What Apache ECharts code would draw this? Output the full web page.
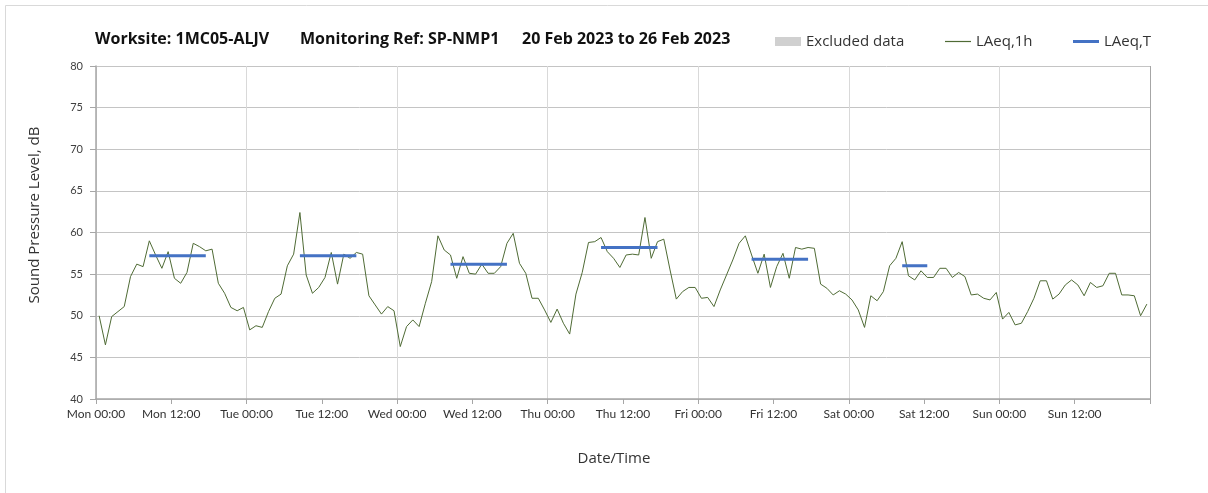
<!DOCTYPE html>
<html>
<head>
<meta charset="utf-8">
<title>LAeq monitoring SP-NMP1</title>
<script src="https://cdn.jsdelivr.net/npm/echarts@6/dist/echarts.min.js"></script>
<style>
  html, body { margin: 0; padding: 0; background: #fff; }
  #chart { width: 1208px; height: 493px; }
</style>
</head>
<body>
<div id="chart"></div>
<script>
// hourly LAeq,1h, Mon 00:00 .. Sun 23:00
const laeq1h = [
  50.0, 46.5, 49.9, 50.5, 51.1, 54.7, 56.2, 55.9, 59.0, 57.3, 55.7, 57.7,
  54.5, 53.9, 55.2, 58.7, 58.3, 57.8, 58.0, 53.9, 52.7, 51.0, 50.6, 51.0,
  48.3, 48.8, 48.6, 50.5, 52.1, 52.6, 56.0, 57.4, 62.4, 54.9, 52.7, 53.4,
  54.6, 57.6, 53.8, 57.4, 56.9, 57.6, 57.4, 52.4, 51.3, 50.2, 51.1, 50.6,
  46.3, 48.7, 49.5, 48.7, 51.5, 54.1, 59.6, 57.9, 57.3, 54.5, 57.1, 55.1,
  55.0, 56.2, 55.1, 55.1, 55.9, 58.7, 59.9, 56.3, 55.1, 52.1, 52.1, 50.7,
  49.2, 50.8, 49.1, 47.8, 52.6, 55.2, 58.8, 58.9, 59.4, 57.7, 56.9, 55.8,
  57.3, 57.4, 57.3, 61.8, 56.9, 58.9, 59.2, 55.5, 52.0, 52.9, 53.4, 53.4,
  52.1, 52.2, 51.1, 53.1, 54.9, 56.7, 58.7, 59.6, 57.3, 55.1, 57.4, 53.4,
  55.9, 57.5, 54.5, 58.2, 58.0, 58.2, 58.1, 53.8, 53.3, 52.5, 53.0, 52.6,
  51.9, 50.7, 48.6, 52.4, 51.8, 52.9, 56.0, 56.9, 58.9, 54.8, 54.3, 55.4,
  54.6, 54.6, 55.7, 55.7, 54.6, 55.2, 54.7, 52.5, 52.6, 52.1, 51.9, 52.8,
  49.6, 50.4, 48.9, 49.1, 50.5, 52.1, 54.2, 54.2, 52.0, 52.6, 53.7, 54.3,
  53.7, 52.4, 54.0, 53.4, 53.6, 55.1, 55.1, 52.5, 52.5, 52.4, 50.0, 51.4
];

// LAeq,T per daytime period (day index, first hour, last hour, level)
const periodDay   = [0, 1, 2, 3, 4, 5];
const periodFrom  = [8, 8, 8, 8, 8, 8];
const periodTo    = [17, 17, 17, 17, 17, 12];
const laeqT       = [57.2, 57.2, 56.2, 58.2, 56.8, 56.0];

const tickLabels = [
  'Mon 00:00', 'Mon 12:00', 'Tue 00:00', 'Tue 12:00', 'Wed 00:00', 'Wed 12:00',
  'Thu 00:00', 'Thu 12:00', 'Fri 00:00', 'Fri 12:00', 'Sat 00:00', 'Sat 12:00',
  'Sun 00:00', 'Sun 12:00'
];

const hours = laeq1h.map((_, i) => i);

// blue segments, null between periods so the line breaks
const laeqTData = hours.map(() => null);
periodDay.forEach((d, k) => {
  for (let h = periodFrom[k]; h <= periodTo[k]; h++) laeqTData[d * 24 + h] = laeqT[k];
});

const FONT = 'Lato, "Open Sans", sans-serif';
const WIDE = '"Open Sans", Lato, sans-serif';

const chart = echarts.init(document.getElementById('chart'));

// one legend per entry so each icon can have its own height
const legendBase = {
  top: 34,
  padding: 0,
  itemWidth: 26,
  icon: 'rect',
  textStyle: { fontSize: 15, color: '#333', fontFamily: WIDE }
};

chart.setOption({
  animation: false,
  backgroundColor: '#ffffff',
  textStyle: { fontFamily: FONT },
  grid: { left: 96, right: 58, top: 66, bottom: 94 },
  legend: [
    Object.assign({}, legendBase, { left: 775, itemHeight: 9, data: ['Excluded data'] }),
    Object.assign({}, legendBase, { left: 945, itemHeight: 1.2, data: ['LAeq,1h'] }),
    Object.assign({}, legendBase, { left: 1073, itemHeight: 3, data: ['LAeq,T'] })
  ],
  xAxis: [
    {
      // category axis for the hourly points (centred in each hour)
      type: 'category',
      data: hours,
      boundaryGap: true,
      show: false
    },
    {
      type: 'value',
      min: 0,
      max: 168,
      interval: 12,
      position: 'bottom',
      axisLine: { show: true, lineStyle: { color: '#a6a6a6', width: 1.5 } },
      axisTick: { show: true, length: 5, lineStyle: { color: '#a6a6a6' } },
      axisLabel: {
        color: '#333',
        fontSize: 12,
        margin: 9,
        formatter: v => tickLabels[v / 12] || ''
      },
      splitLine: { show: false }
    },
    {
      // vertical day gridlines + right border
      type: 'value',
      min: 0,
      max: 168,
      interval: 24,
      position: 'bottom',
      axisLine: { show: false },
      axisTick: { show: false },
      axisLabel: { show: false },
      splitLine: {
        show: true,
        lineStyle: {
          color: ['#d9d9d9', '#d9d9d9', '#d9d9d9', '#d9d9d9', '#d9d9d9', '#d9d9d9', '#d9d9d9', '#a6a6a6'],
          width: 1
        }
      }
    }
  ],
  yAxis: {
    type: 'value',
    min: 40,
    max: 80,
    interval: 5,
    axisLine: { show: true, lineStyle: { color: '#a6a6a6', width: 1.5 } },
    axisTick: { show: true, length: 6, lineStyle: { color: '#a6a6a6' } },
    axisLabel: { color: '#404040', fontSize: 11, margin: 13 },
    splitLine: { show: true, lineStyle: { color: '#c4c4c4', width: 1 } }
  },
  series: [
    {
      name: 'Excluded data',
      type: 'bar',
      xAxisIndex: 1,
      data: [],
      itemStyle: { color: '#d0d0d0' }
    },
    {
      name: 'LAeq,1h',
      type: 'line',
      xAxisIndex: 0,
      data: laeq1h,
      symbol: 'none',
      showSymbol: false,
      itemStyle: { color: '#4f6b35' },
      lineStyle: { color: '#4f6b35', width: 1 },
      z: 3
    },
    {
      name: 'LAeq,T',
      type: 'line',
      xAxisIndex: 0,
      data: laeqTData,
      connectNulls: false,
      symbol: 'none',
      showSymbol: false,
      itemStyle: { color: '#4472c4' },
      lineStyle: { color: '#4472c4', width: 3 },
      z: 4
    }
  ],
  graphic: [
    {
      type: 'rect',
      silent: true,
      shape: { x: 5.5, y: 5.5, width: 1400, height: 700 },
      style: { fill: 'none', stroke: '#d9d9d9', lineWidth: 1 }
    },
    {
      type: 'text', left: 95, top: 31,
      style: { text: 'Worksite: 1MC05-ALJV', font: 'bold 16px ' + WIDE, fill: '#111' }
    },
    {
      type: 'text', left: 300, top: 31,
      style: { text: 'Monitoring Ref: SP-NMP1', font: 'bold 16px ' + WIDE, fill: '#111' }
    },
    {
      type: 'text', left: 522, top: 31,
      style: { text: '20 Feb 2023 to 26 Feb 2023', font: 'bold 16px ' + WIDE, fill: '#111' }
    },
    {
      type: 'text',
      x: 35, y: 215,
      rotation: Math.PI / 2,
      style: {
        text: 'Sound Pressure Level, dB',
        font: '15px ' + WIDE,
        fill: '#333',
        align: 'center',
        verticalAlign: 'middle'
      }
    },
    {
      type: 'text',
      x: 614, y: 459,
      style: {
        text: 'Date/Time',
        font: '15px ' + WIDE,
        fill: '#333',
        align: 'center',
        verticalAlign: 'middle'
      }
    }
  ]
});
</script>
</body>
</html>
